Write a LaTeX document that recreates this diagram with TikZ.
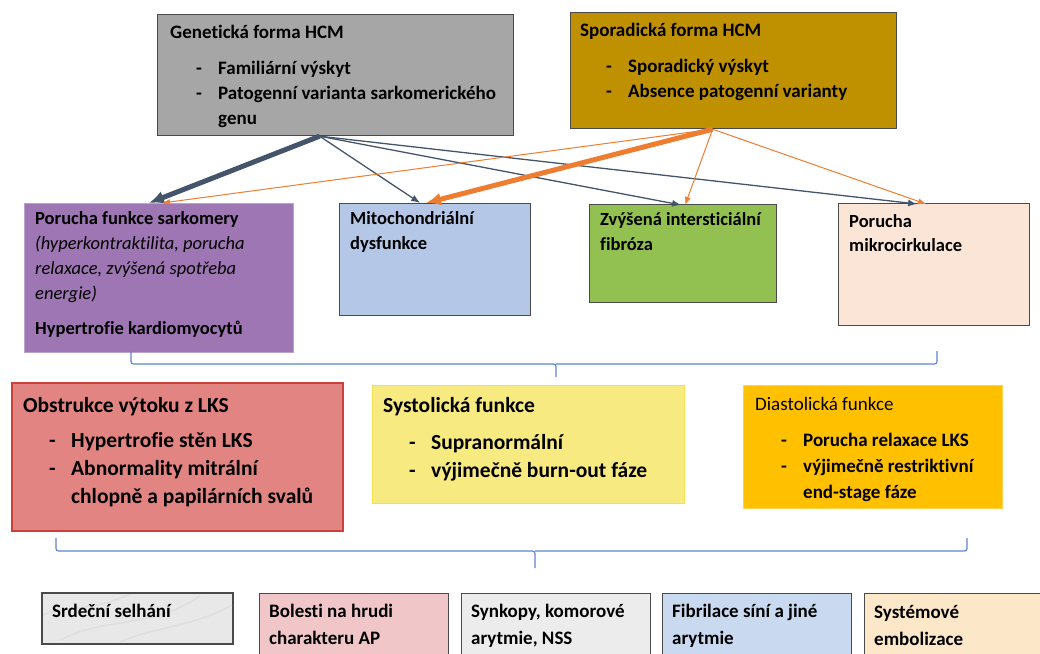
\documentclass[tikz,border=0pt]{standalone}
\usepackage{fontspec}
\setmainfont[Ligatures={NoCommon}]{Carlito}
\usepackage{xcolor}
\usetikzlibrary{positioning,arrows.meta,calc}

\definecolor{genfill}{HTML}{A6A6A6}
\definecolor{sporfill}{HTML}{BF9000}
\definecolor{purfill}{HTML}{9E76B4}
\definecolor{purline}{HTML}{B9A2CD}
\definecolor{mitofill}{HTML}{B4C7E7}
\definecolor{fibfill}{HTML}{92C151}
\definecolor{mikrofill}{HTML}{FBE5D6}
\definecolor{obsfill}{HTML}{E28482}
\definecolor{obsline}{HTML}{C9413A}
\definecolor{sysfill}{HTML}{F7EA80}
\definecolor{sysline}{HTML}{F5E050}
\definecolor{diafill}{HTML}{FFC000}
\definecolor{dialine}{HTML}{FFD24D}
\definecolor{edge}{HTML}{4A4A4A}
\definecolor{arrgray}{HTML}{44546A}
\definecolor{arrorange}{HTML}{ED7D31}
\definecolor{braceblue}{HTML}{5B84D0}
\definecolor{marble}{HTML}{E8E8E8}
\definecolor{rosy}{HTML}{F0C6C9}
\definecolor{granite}{HTML}{ECECEC}
\definecolor{skyish}{HTML}{C9D9F0}
\definecolor{cream}{HTML}{FCE8C8}

\newcommand{\li}{\makebox[48pt][l]{\hspace*{26pt}-}}
\newcommand{\lc}{\hspace*{48pt}}

\begin{document}
\begin{tikzpicture}[
  x=1pt, y=-1pt,
  every node/.style={align=left},
  box/.style={draw=edge, anchor=north west, inner sep=0pt, line width=1.2pt},
  txt/.style={anchor=north west, inner sep=0pt, font=\fontsize{19}{25}\selectfont\bfseries},
  midtxt/.style={txt, font=\fontsize{18.5}{25}\selectfont\bfseries},
  bigtxt/.style={txt, font=\fontsize{21.5}{28}\selectfont\bfseries},
  lowtxt/.style={txt, font=\fontsize{19}{27}\selectfont\bfseries},
  gthin/.style={-{Latex[length=9pt,width=7pt]}, arrgray, line width=1.3pt},
  gthick/.style={-{Latex[length=15pt,width=13pt]}, arrgray, line width=5pt},
  othin/.style={-{Latex[length=8pt,width=6pt]}, arrorange, line width=1pt},
  othick/.style={-{Latex[length=15pt,width=13pt]}, arrorange, line width=5pt},
  brace/.style={braceblue, line width=1.2pt, rounded corners=2.5pt},
  vein/.style={white!70!gray, line width=1.5pt, opacity=0.6}
]
\clip (0,0) rectangle (1040,653);

\node[box, fill=genfill, minimum width=356pt, minimum height=121pt] (gen) at (157,14) {};
\node[txt] (gentx) at (170,24.5) {Genetická forma HCM\\[11pt]\li Familiární výskyt\\\li Patogenní varianta sarkomerického\\\lc genu};
\node[box, fill=sporfill, minimum width=326pt, minimum height=116pt] (spor) at (570,12) {};
\node[txt, font=\fontsize{19}{24.5}\selectfont\bfseries] (sportx) at (580,22.5) {Sporadická forma HCM\\[12pt]\li Sporadický výskyt\\\li Absence patogenní varianty};

\node[box, draw=purline, line width=1pt, fill=purfill, minimum width=269pt, minimum height=149pt] (pur) at (24,203) {};
\node[midtxt] (purtx) at (35,211.5) {Porucha funkce sarkomery\\\mdseries\itshape(hyperkontraktilita, porucha\\\mdseries\itshape relaxace, zvýšená spotřeba\\\mdseries\itshape energie)\\[10pt]Hypertrofie kardiomyocytů};
\node[box, fill=mitofill, minimum width=191pt, minimum height=112pt] (mito) at (339,203) {};
\node[midtxt] (mitotx) at (350,211.5) {Mitochondriální\\dysfunkce};
\node[box, fill=fibfill, minimum width=187pt, minimum height=98pt] (fib) at (589,204) {};
\node[midtxt] (fibtx) at (600,212.5) {Zvýšená intersticiální\\fibróza};
\node[box, fill=mikrofill, minimum width=191pt, minimum height=122pt] (mikro) at (838,203) {};
\node[midtxt, font=\fontsize{18.5}{24}\selectfont\bfseries] (mikrotx) at (849,214) {Porucha\\mikrocirkulace};

\draw[gthick] ($(gen.south)+(-16,0)$) -- ($(pur.north)+(-10,0)$);
\draw[gthin] ($(gen.south)+(-16,0)$) -- ($(mito.north)+(-15,0)$);
\draw[gthin] ($(gen.south)+(-16,0)$) -- ($(fib.north)+(-2,1)$);
\draw[gthin] ($(gen.south)+(-16,0)$) -- ($(mikro.north)+(-17,1)$);
\draw[othin] ($(spor.south)+(-21,0)$) -- ($(pur.north)+(3,0)$);
\draw[othick] ($(spor.south)+(-21,0)$) -- ($(mito.north)+(-9,0)$);
\draw[othin] ($(spor.south)+(-21,0)$) -- ($(fib.north)+(2,1)$);
\draw[othin] ($(spor.south)+(-21,0)$) -- ($(mikro.north)+(-8,1)$);

\draw[brace] (131,351) |- (556,364) -- (556,377);
\draw[brace] (556,364) -| (937,351);

\node[box, draw=obsline, line width=2pt, fill=obsfill, minimum width=331pt, minimum height=148pt] (obs) at (11,382) {};
\node[bigtxt] (obstx) at (23,397.5) {Obstrukce výtoku z LKS\\[7pt]\li Hypertrofie stěn LKS\\\li Abnormality mitrální\\\lc chlopně a papilárních svalů};
\node[box, draw=sysline, line width=1.2pt, fill=sysfill, minimum width=312pt, minimum height=118pt] (sys) at (372,385) {};
\node[bigtxt] (systx) at (383,397.5) {Systolická funkce\\[9pt]\li Supranormální\\\li výjimečně burn-out fáze};
\node[box, draw=dialine, line width=1.2pt, fill=diafill, minimum width=259pt, minimum height=123pt] (dia) at (743,385) {};
\node[txt, font=\fontsize{19}{26}\selectfont\bfseries] (diatx) at (755,397.5) {\mdseries Diastolická funkce\\[10pt]\li Porucha relaxace LKS\\\li výjimečně restriktivní\\\lc end-stage fáze};

\draw[brace] (56,538) |- (535,551) -- (535,568);
\draw[brace] (535,551) -| (967,538);

\node[box, fill=marble, minimum width=190pt, minimum height=50pt] (srd) at (42,593) {};
\begin{scope}
  \clip (srd.north west) rectangle (srd.south east);
  \draw[vein] (60,640) .. controls (110,615) and (150,630) .. (200,596);
  \draw[vein] (120,642) .. controls (160,625) and (190,628) .. (232,605);
  \draw[vein] (42,615) .. controls (70,605) and (90,612) .. (130,594);
\end{scope}
\draw[edge, line width=1.2pt] (srd.north west) rectangle (srd.south east);
\node[lowtxt] (srdtx) at (52,603.5) {Srdeční selhání};
\node[box, fill=rosy, minimum width=189pt, minimum height=80pt] (bol) at (259,593) {};
\node[lowtxt] (boltx) at (269,603.5) {Bolesti na hrudi\\charakteru AP};
\node[box, fill=granite, minimum width=189pt, minimum height=80pt] (syn) at (461,593) {};
\node[lowtxt] (syntx) at (471,603.5) {Synkopy, komorové\\arytmie, NSS};
\node[box, fill=skyish, minimum width=189pt, minimum height=80pt] (fibr) at (662,593) {};
\node[lowtxt] (fibrtx) at (672,603.5) {Fibrilace síní a jiné\\arytmie};
\node[box, fill=cream, minimum width=200pt, minimum height=80pt] (emb) at (864,593) {};
\node[lowtxt] (embtx) at (874,605) {Systémové\\embolizace};
\end{tikzpicture}
\end{document}
